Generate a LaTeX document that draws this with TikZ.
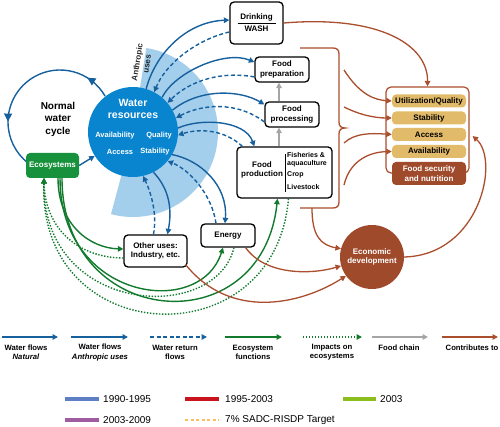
\documentclass[tikz,border=0pt]{standalone}
\usepackage{fontspec}
\setmainfont{Liberation Sans}
\usetikzlibrary{arrows.meta,calc,decorations.markings}
\definecolor{wblue}{RGB}{22,96,158}
\definecolor{wfill}{RGB}{8,133,206}
\definecolor{wedgec}{RGB}{163,206,236}
\definecolor{egreen}{RGB}{18,122,45}
\definecolor{ebox}{RGB}{24,145,60}
\definecolor{brownc}{RGB}{170,78,45}
\definecolor{fsnfill}{RGB}{160,74,44}
\definecolor{tanc}{RGB}{226,187,106}
\definecolor{greyc}{RGB}{165,165,165}
\definecolor{lgblue}{RGB}{95,127,196}
\definecolor{lgred}{RGB}{200,20,30}
\definecolor{lggreen}{RGB}{140,190,30}
\definecolor{lgpurple}{RGB}{160,92,160}
\definecolor{lgorange}{RGB}{250,190,100}
\begin{document}
\begin{tikzpicture}[x=1pt,y=-1pt,
  font=\bfseries\fontsize{8}{9.5}\selectfont,
  >={Triangle[length=5.5pt,width=5.5pt]},
  box/.style={draw=black,line width=1.3pt,rounded corners=4pt,fill=white,align=center,inner sep=1pt},
  wflow/.style={wblue,line width=1.4pt,->},
  wret/.style={wblue,line width=1.4pt,->,dash pattern=on 4pt off 2.5pt},
  eflow/.style={egreen,line width=1.4pt,->},
  eimp/.style={egreen,line width=1.4pt,->,dash pattern=on 1.4pt off 1.6pt},
  chain/.style={greyc,line width=1.6pt,->},
  contrib/.style={brownc,line width=1.3pt,->},
  fsni/.style={fill=tanc,rounded corners=4pt,minimum width=74pt,minimum height=13pt,inner sep=0pt},
  lgtext/.style={align=center,font=\bfseries\fontsize{7.7}{9.2}\selectfont},
  bartext/.style={anchor=west,font=\mdseries\fontsize{10}{12}\selectfont,inner sep=0pt}
]
\useasboundingbox (0,0) rectangle (500,427);

% wedge of anthropic uses
\fill[wedgec] (133,132) -- ++(-81:85) arc[start angle=-81,end angle=105,radius=85] -- cycle;
\node[rotate=81,align=center,text=black!85,font=\bfseries\fontsize{8}{10}\selectfont] (anth) at (142,63) {Anthropic\\uses};

% normal water cycle
\draw[wblue,line width=1.4pt,postaction={decorate},
  decoration={markings,
    mark=at position 0.14 with {\arrow{Triangle[length=8pt,width=8pt]}},
    mark=at position 0.74 with {\arrow{Triangle[length=8pt,width=8pt]}}}]
  ([shift={(-30:52)}]60,122) arc[start angle=-30,end angle=-232,radius=52];
\node[align=center,font=\bfseries\fontsize{10}{12.5}\selectfont] (cyc) at (58,119) {Normal\\water\\cycle};

% water resources
\node[circle,fill=wfill,minimum size=90pt,inner sep=0pt] (wr) at (133,132) {};
\node[text=white,align=center,font=\bfseries\fontsize{10.5}{11.5}\selectfont] (wrt) at (133,109) {Water\\resources};
\node[text=white,font=\bfseries\fontsize{7.5}{9}\selectfont] (wav) at (115,136) {Availability};
\node[text=white,font=\bfseries\fontsize{7.5}{9}\selectfont] (wqu) at (159,136) {Quality};
\node[text=white,font=\bfseries\fontsize{7.5}{9}\selectfont] (wac) at (120,152) {Access};
\node[text=white,font=\bfseries\fontsize{7.5}{9}\selectfont] (wst) at (155,152) {Stability};

% ecosystems
\node[fill=ebox,rounded corners=4pt,minimum width=53pt,minimum height=25pt,inner sep=0pt,text=white] (eco) at (52.5,165.5) {Ecosystems};
\draw[wflow] (eco.east) -- (wr.212);

% use boxes
\node[box,minimum width=53pt,minimum height=42pt,align=center,font=\bfseries\fontsize{8}{12}\selectfont] (drink) at (256.5,23) {Drinking\\WASH};
\draw[line width=0.7pt] ([xshift=-19pt]drink.center) -- ([xshift=19pt]drink.center);
\node[box,minimum width=54pt,minimum height=25pt] (prep) at (282,69.5) {Food\\preparation};
\node[box,minimum width=54pt,minimum height=25pt] (proc) at (292,114.5) {Food\\processing};
\node[box,minimum width=95pt,minimum height=51pt] (prod) at (284.5,172.5) {};
\node[align=center] (prodt) at (262,170) {Food\\production};
\draw[line width=0.9pt] (285,154) -- (285,192);
\node[anchor=west,align=left,inner sep=0pt,font=\bfseries\fontsize{7}{8}\selectfont] (prodf) at (287,160) {Fisheries \&\\aquaculture};
\node[anchor=west,inner sep=0pt,font=\bfseries\fontsize{7}{8}\selectfont] (prodc) at (287,175) {Crop};
\node[anchor=west,inner sep=0pt,font=\bfseries\fontsize{7}{8}\selectfont] (prodv) at (287,187) {Livestock};
\node[box,minimum width=54pt,minimum height=23pt] (energy) at (228,235.5) {Energy};
\node[box,minimum width=63pt,minimum height=32pt] (other) at (155.5,251) {Other uses:\\Industry, etc.};

% food chain
\draw[chain] (prod.north -| proc.south) ++(-13,0) -- ($(proc.south)+(-13,0)$);
\draw[chain] ($(proc.north)+(-13,0)$) -- ($(prep.south)+(-3,0)$);

% water flows (anthropic) and return flows
\draw[wflow] (wr.73) .. controls (155,55) and (185,22) .. ($(drink.west)+(0,-3)$);
\draw[wret] ($(drink.west)+(0,9)$) .. controls (195,40) and (165,65) .. (wr.62);
\draw[wflow] (wr.50) .. controls (175,72) and (225,50) .. (prep.165);
\draw[wret] (prep.195) .. controls (215,70) and (185,85) .. (wr.40);
\draw[wflow] (wr.29) .. controls (200,88) and (240,90) .. (proc.160);
\draw[wret] (proc.195) .. controls (235,100) and (200,105) .. (wr.18);
\draw[wflow] (wr.5) .. controls (200,118) and (245,120) .. ($(prod.north west)+(18,0)$);
\draw[wret] ($(prod.north west)+(6,0)$) .. controls (225,130) and (200,128) .. (wr.-4);
\draw[wflow] (wr.-30) .. controls (200,160) and (228,185) .. ($(energy.north)+(-3,0)$);
\draw[wret] ($(energy.north)+(-12,0)$) .. controls (212,195) and (190,170) .. (wr.-40);
\draw[wflow] (wr.-63) .. controls (170,190) and (172,210) .. ($(other.north)+(12,0)$);
\draw[wret] ($(other.north)+(-2,0)$) .. controls (157,215) and (152,195) .. (wr.-77);

% ecosystem functions and impacts
\coordinate (eb1) at (58,178);
\coordinate (eb2) at (60,178);
\coordinate (eb3) at (62,178);
\coordinate (ein) at (44,178);
\draw[eflow] (eb1) .. controls (58,225) and (90,248) .. ($(other.west)+(0,-2)$);
\draw[eimp] ($(other.west)+(0,7)$) .. controls (80,258) and (45,230) .. (ein);
\draw[eflow] (eb2) .. controls (60,300) and (200,320) .. ($(energy.south)+(-5,0)$);
\draw[eimp] ($(energy.south)+(6,0)$) .. controls (215,325) and (42,315) .. (ein);
\draw[eflow] (eb3) .. controls (62,330) and (262,345) .. ($(prod.south)+(-7,0)$);
\draw[eimp] ($(prod.south)+(4,0)$) .. controls (275,360) and (38,350) .. (ein);

% food security and nutrition
\node[draw=brownc,line width=1.2pt,rounded corners=5pt,minimum width=83pt,minimum height=86pt,inner sep=0pt] (fsno) at (427.5,130) {};
\node[fsni] (util) at (429,101) {Utilization/Quality};
\node[fsni] (stab) at (429,118) {Stability};
\node[fsni] (acc) at (429,134.5) {Access};
\node[fsni] (avail) at (429,151.5) {Availability};
\node[fill=fsnfill,rounded corners=4pt,minimum width=74pt,minimum height=23pt,inner sep=0pt,text=white,align=center] (fsnb) at (429,173.5) {Food security\\and nutrition};

% economic development
\node[circle,fill=fsnfill,minimum size=64pt,inner sep=0pt,text=white,align=center] (econ) at (372,257) {Economic\\development};

% brace
\draw[brownc,line width=1.3pt] (300,48) -- (333,48) .. controls (337,48) and (339,50) .. (339,54) -- (339,122) .. controls (339,126) and (341,128) .. (345,128) .. controls (341,128) and (339,130) .. (339,134) -- (339,202) .. controls (339,206) and (337,208) .. (333,208) -- (300,208);
\coordinate (br1) at (344,70);
\coordinate (br2) at (344,107);
\coordinate (br3) at (344,143);
\coordinate (br4) at (344,185);
\coordinate (brb) at (312,208);
\draw[contrib] (br1) .. controls (360,95) and (375,100) .. (util.west);
\draw[contrib] (br2) .. controls (360,115) and (375,118) .. (stab.west);
\draw[contrib] (br3) .. controls (355,133) and (370,133) .. (acc.west);
\draw[contrib] (br4) .. controls (350,160) and (370,152) .. (avail.west);
\draw[contrib] (brb) .. controls (312,235) and (320,245) .. (econ.165);

% contributions
\draw[contrib] (drink.east) .. controls (380,15) and (428,45) .. (fsno.north);
\draw[contrib] (econ.east) .. controls (480,255) and (500,160) .. ($(fsno.east)+(3,6)$);
\draw[contrib] ($(energy.south east)+(-10,0)$) .. controls (265,275) and (310,275) .. (econ.196);
\draw[contrib] ($(other.south east)+(-2,-3)$) .. controls (230,320) and (300,305) .. (econ.216);

% legend
\coordinate (l1a) at (2,337);   \coordinate (l1b) at (58,337);
\coordinate (l2a) at (71,337);  \coordinate (l2b) at (128,337);
\coordinate (l3a) at (150,337); \coordinate (l3b) at (207,337);
\coordinate (l4a) at (225,337); \coordinate (l4b) at (282,337);
\coordinate (l5a) at (303,337); \coordinate (l5b) at (362,337);
\coordinate (l6a) at (372,337); \coordinate (l6b) at (428,337);
\coordinate (l7a) at (442,337); \coordinate (l7b) at (498,337);
\draw[wflow] (l1a) -- (l1b);
\draw[wflow] (l2a) -- (l2b);
\draw[wret] (l3a) -- (l3b);
\draw[eflow] (l4a) -- (l4b);
\draw[eimp] (l5a) -- (l5b);
\draw[chain] (l6a) -- (l6b);
\draw[contrib] (l7a) -- (l7b);
\node[lgtext] (l1t) at (26,352.5) {Water flows\\\textit{Natural}};
\node[lgtext] (l2t) at (100,352.5) {Water flows\\\textit{Anthropic uses}};
\node[lgtext] (l3t) at (175,352.5) {Water return\\flows};
\node[lgtext] (l4t) at (253,352.5) {Ecosystem\\functions};
\node[lgtext] (l5t) at (332,352.5) {Impacts on\\ecosystems};
\node[lgtext] (l6t) at (399,348) {Food chain};
\node[lgtext] (l7t) at (472,348) {Contributes to};

% bottom legend
\draw[lgblue,line width=4.5pt] (65,399) -- (99,399);
\node[bartext] (b1) at (103,399) {1990-1995};
\draw[lgred,line width=4.5pt] (185,399) -- (219,399);
\node[bartext] (b2) at (225,399) {1995-2003};
\draw[lggreen,line width=4.5pt] (343,399) -- (376,399);
\node[bartext] (b3) at (380,399) {2003};
\draw[lgpurple,line width=4.5pt] (65,420) -- (99,420);
\node[bartext] (b4) at (103,420) {2003-2009};
\draw[lgorange,line width=1.3pt,dash pattern=on 3pt off 2.5pt] (185,420) -- (219,420);
\node[bartext] (b5) at (225,420) {7\% SADC-RISDP Target};
\end{tikzpicture}
\end{document}
